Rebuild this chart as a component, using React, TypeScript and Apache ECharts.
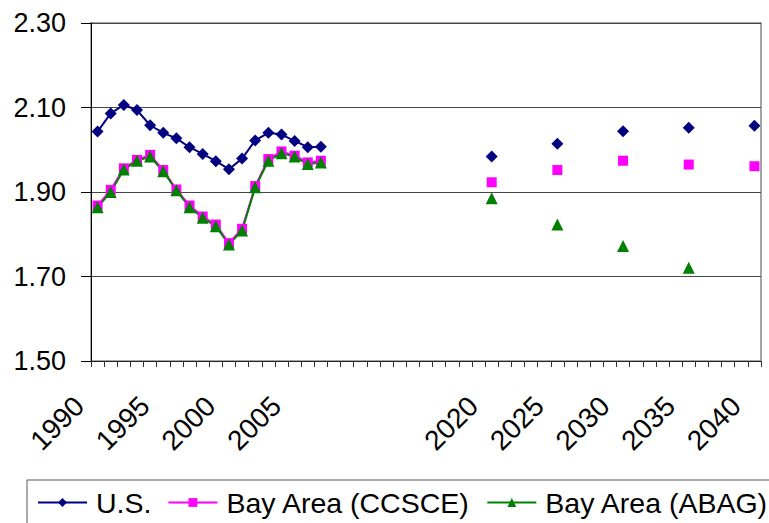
import React, { useEffect, useRef } from "react";
import * as echarts from "echarts";

const categories: string[] = Array.from({ length: 51 }, (_, i) => String(1990 + i));
const tickLabels = ["1990", "1995", "2000", "2005", "2020", "2025", "2030", "2035", "2040"];

const histYears = ["1990", "1991", "1992", "1993", "1994", "1995", "1996", "1997", "1998", "1999", "2000", "2001", "2002", "2003", "2004", "2005", "2006", "2007"];
const usHist = [2.043, 2.086, 2.106, 2.094, 2.058, 2.040, 2.027, 2.006, 1.990, 1.973, 1.954, 1.979, 2.022, 2.040, 2.036, 2.021, 2.006, 2.007];
const ccsceHist = [1.868, 1.905, 1.956, 1.976, 1.988, 1.952, 1.906, 1.868, 1.842, 1.823, 1.779, 1.813, 1.914, 1.978, 1.996, 1.986, 1.970, 1.974];
const abagHist = [1.864, 1.900, 1.953, 1.974, 1.984, 1.949, 1.904, 1.864, 1.839, 1.819, 1.776, 1.809, 1.911, 1.974, 1.992, 1.984, 1.966, 1.970];

const projYears = ["2020", "2025", "2030", "2035", "2040"];
const usProj = [1.984, 2.014, 2.044, 2.052, 2.057];
const ccsceProj = [1.923, 1.952, 1.974, 1.965, 1.961];
const abagProj: (number | null)[] = [1.885, 1.823, 1.772, 1.721, null];

function build(hist: number[], proj: (number | null)[]) {
  return categories.map((c) => {
    const h = histYears.indexOf(c);
    if (h >= 0) return hist[h];
    const p = projYears.indexOf(c);
    if (p >= 0) return proj[p];
    return null;
  });
}

const FONT = "'Liberation Sans', Arial, sans-serif";

export default function App() {
  const ref = useRef<HTMLDivElement>(null);
  useEffect(() => {
    if (!ref.current) return;
    const chart = echarts.init(ref.current, null, { renderer: "svg" });
    chart.setOption({
      animation: false,
      backgroundColor: "#fff",
      textStyle: { fontFamily: FONT },
      grid: {
        left: 91,
        right: 8,
        top: 23,
        bottom: 162,
        show: true,
        borderColor: "#888",
        borderWidth: 1.5,
        backgroundColor: "transparent",
      },
      legend: {
        left: 27,
        top: 480,
        width: 760,
        padding: [8, 10, 12, 10],
        borderColor: "#555",
        borderWidth: 1,
        itemGap: 16,
        itemWidth: 49,
        itemHeight: 11,
        textStyle: { fontSize: 28.5, color: "#000", fontFamily: FONT, padding: [0, 0, 0, 4] },
        data: ["U.S.", "Bay Area (CCSCE)", "Bay Area (ABAG)"],
      },
      xAxis: {
        type: "category",
        data: categories,
        boundaryGap: true,
        axisLine: { lineStyle: { color: "#222", width: 1 } },
        axisTick: { show: true, interval: 0, length: 6, lineStyle: { color: "#333" } },
        axisLabel: {
          interval: (_i: number, v: string) => tickLabels.includes(v),
          rotate: 45,
          margin: 22,
          padding: [0, 26, 0, 0],
          fontSize: 28,
          color: "#000",
          fontFamily: FONT,
        },
        splitLine: { show: false },
      },
      yAxis: {
        type: "value",
        min: 1.5,
        max: 2.3,
        interval: 0.2,
        axisLine: { show: true, lineStyle: { color: "#000", width: 1 } },
        axisTick: { show: true, length: 10, lineStyle: { color: "#000" } },
        axisLabel: {
          margin: 25,
          fontSize: 27,
          color: "#000",
          fontFamily: FONT,
          formatter: (v: number) => v.toFixed(2),
        },
        splitLine: { show: true, lineStyle: { color: "#444", width: 1 } },
      },
      series: [
        {
          name: "U.S.",
          type: "line",
          data: build(usHist, usProj),
          connectNulls: false,
          showAllSymbol: true,
          symbol: "diamond",
          symbolSize: 12,
          lineStyle: { color: "#000080", width: 2 },
          itemStyle: { color: "#000080" },
          color: "#000080",
        },
        {
          name: "Bay Area (CCSCE)",
          type: "line",
          data: build(ccsceHist, ccsceProj),
          connectNulls: false,
          showAllSymbol: true,
          symbol: "rect",
          symbolSize: 10,
          lineStyle: { color: "#FF00FF", width: 2 },
          itemStyle: { color: "#FF00FF" },
          color: "#FF00FF",
        },
        {
          name: "Bay Area (ABAG)",
          type: "line",
          data: build(abagHist, abagProj),
          connectNulls: false,
          showAllSymbol: true,
          symbol: "triangle",
          symbolSize: 12,
          lineStyle: { color: "#008000", width: 2 },
          itemStyle: { color: "#008000" },
          color: "#008000",
        },
      ],
    });
    return () => chart.dispose();
  }, []);
  return (
    <div
      ref={ref}
      style={{ position: "fixed", left: 0, top: 0, width: 769, height: 523, background: "#fff" }}
    />
  );
}
